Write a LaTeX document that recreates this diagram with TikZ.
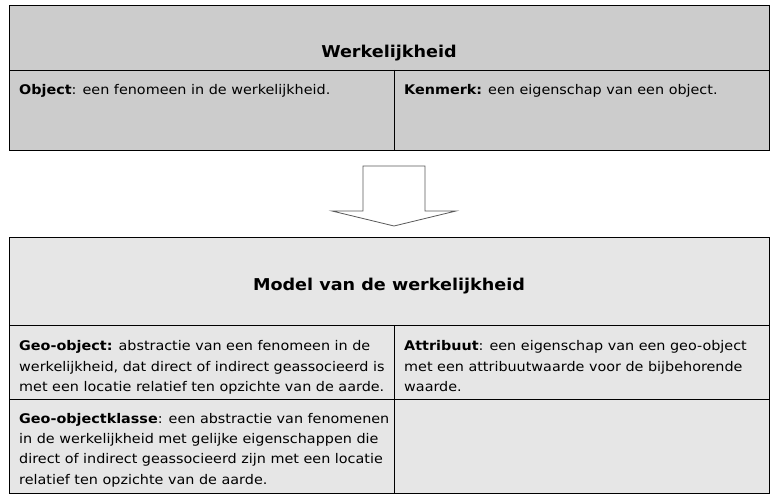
\documentclass[tikz,border=0pt]{standalone}
\usepackage{fontspec}
\setmainfont[FakeStretch=1.08]{DejaVu Sans}
\definecolor{real}{RGB}{204, 204, 204}
\definecolor{model}{RGB}{230, 230, 230}

\begin{document}
\begin{tikzpicture}[x=1pt, y=-1pt,
  cell/.style={anchor=base west, align=left, inner sep=0,
    font=\fontsize{13.3}{20.3}\selectfont},
  head/.style={anchor=base, inner sep=0, font=\bfseries\fontsize{16.3}{18}\selectfont}]
  \useasboundingbox (0, 0) rectangle (778, 502);

  % werkelijkheid
  \filldraw[fill=real, draw=black, line width=0.9] (9, 5) rectangle (769, 150);
  \draw[line width=0.9] (9, 70) -- (769, 70);
  \draw[line width=0.9] (394, 70) -- (394, 150);
  \node[head] (real) at (389, 57.7) {Werkelijkheid};
  \node[cell] (object) at (19, 94.5) {\textbf{Object}: een fenomeen in de werkelijkheid.};
  \node[cell] (kenmerk) at (404, 94.5) {\textbf{Kenmerk:} een eigenschap van een object.};

  % pijl
  \filldraw[fill=white, draw=black!65, line width=0.8]
    (363, 166) -- (425, 166) -- (425, 211) -- (456, 211) -- (394, 226)
    -- (332, 211) -- (363, 211) -- cycle;

  % model (base = laatste regel)
  \filldraw[fill=model, draw=black, line width=0.9] (9, 237) rectangle (769, 493);
  \draw[line width=0.9] (9, 325) -- (769, 325);
  \draw[line width=0.9] (9, 399) -- (769, 399);
  \draw[line width=0.9] (394, 325) -- (394, 493);
  \node[head] (model) at (389, 290.7) {Model van de werkelijkheid};
  \node[cell] (geo) at (19, 391.3) {\textbf{Geo-object:} abstractie van een fenomeen in de\\
    werkelijkheid, dat direct of indirect geassocieerd is\\
    met een locatie relatief ten opzichte van de aarde.};
  \node[cell] (attr) at (404, 391.3) {\textbf{Attribuut}: een eigenschap van een geo-object\\
    met een attribuutwaarde voor de bijbehorende\\
    waarde.};
  \node[cell] (klasse) at (19, 484.2) {\textbf{Geo-objectklasse}: een abstractie van fenomenen\\
    in de werkelijkheid met gelijke eigenschappen die\\
    direct of indirect geassocieerd zijn met een locatie\\
    relatief ten opzichte van de aarde.};
\end{tikzpicture}
\end{document}
